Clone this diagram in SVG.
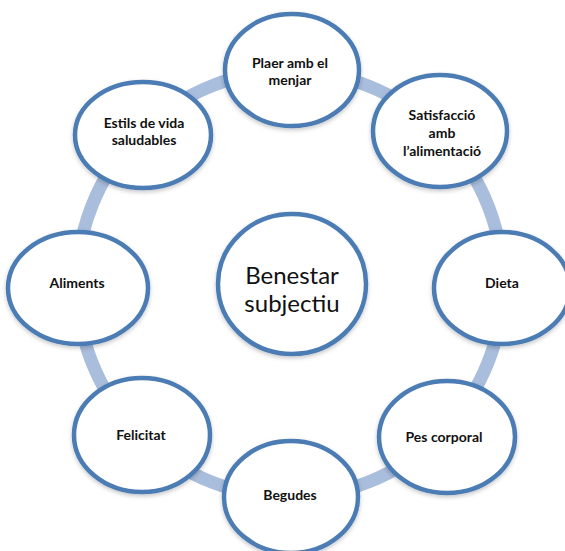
<svg xmlns="http://www.w3.org/2000/svg" width="565" height="551" viewBox="0 0 565 551">
<defs>
<filter id="sh" x="-20%" y="-20%" width="140%" height="140%">
<feDropShadow dx="0" dy="2" stdDeviation="2" flood-color="#000" flood-opacity="0.22"/>
</filter>
</defs>
<style>
.node ellipse{fill:#fff;stroke:#4b7bb4;stroke-width:4.5;filter:url(#sh)}
.lbl{font-family:Lato,"Liberation Sans",sans-serif;font-weight:bold;font-size:14px;fill:#111;text-anchor:middle}
.big{font-family:Lato,"Liberation Sans",sans-serif;font-size:24px;fill:#111;text-anchor:middle}
.ring{fill:none;stroke:#a9bddc;stroke-width:13}
</style>
<rect width="565" height="551" fill="#fff"/>
<g id="connectors">
<circle class="ring" cx="290" cy="284" r="213"/>
</g>
<g id="n-center" class="node">
<ellipse cx="292" cy="284" rx="74" ry="70"/>
<text class="big" x="292" y="284">Benestar</text>
<text class="big" x="292" y="312">subjectiu</text>
</g>
<g id="n-plaer" class="node">
<ellipse cx="292" cy="70" rx="67" ry="56"/>
<text class="lbl" x="290" y="68">Plaer amb el</text>
<text class="lbl" x="290" y="85">menjar</text>
</g>
<g id="n-satisfaccio" class="node">
<ellipse cx="440" cy="131" rx="67" ry="56"/>
<text class="lbl" x="442" y="120">Satisfacció</text>
<text class="lbl" x="442" y="138">amb</text>
<text class="lbl" x="442" y="156">l’alimentació</text>
</g>
<g id="n-dieta" class="node">
<ellipse cx="502" cy="288" rx="68" ry="56"/>
<text class="lbl" x="502" y="288">Dieta</text>
</g>
<g id="n-pes" class="node">
<ellipse cx="447" cy="437" rx="68" ry="56"/>
<text class="lbl" x="444" y="442">Pes corporal</text>
</g>
<g id="n-begudes" class="node">
<ellipse cx="291" cy="497" rx="67" ry="56"/>
<text class="lbl" x="290" y="500">Begudes</text>
</g>
<g id="n-felicitat" class="node">
<ellipse cx="142" cy="435" rx="68" ry="57"/>
<text class="lbl" x="141" y="440">Felicitat</text>
</g>
<g id="n-aliments" class="node">
<ellipse cx="78" cy="288" rx="70" ry="56"/>
<text class="lbl" x="77" y="288">Aliments</text>
</g>
<g id="n-estils" class="node">
<ellipse cx="143" cy="135" rx="68" ry="53"/>
<text class="lbl" x="144" y="128">Estils de vida</text>
<text class="lbl" x="144" y="145">saludables</text>
</g>
</svg>
